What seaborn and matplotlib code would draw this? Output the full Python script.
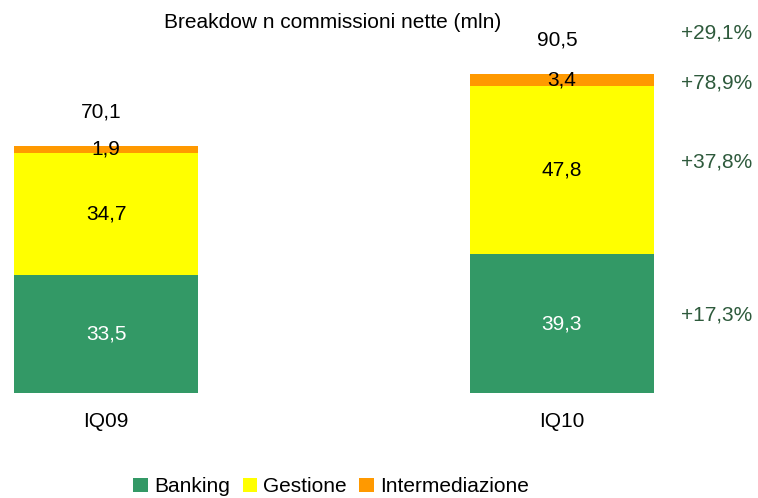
import pandas as pd
import numpy as np
import matplotlib.pyplot as plt
import seaborn as sns
from matplotlib.patches import Patch

# breakdown of net commissions (mln)
periods = ["IQ09", "IQ10"]
banking = [33.5, 39.3]
gestione = [34.7, 47.8]
intermediazione = [1.9, 3.4]
totals = [70.1, 90.5]
growth = ["+17,3%", "+37,8%", "+78,9%", "+29,1%"]  # banking, gestione, intermediazione, total

colors = {"Banking": "#339966", "Gestione": "#FFFF00", "Intermediazione": "#FF9900"}

df = pd.DataFrame({
    "period": periods,
    "Banking": banking,
    "Gestione": gestione,
    "Intermediazione": intermediazione,
})
df["lvl1"] = df["Banking"]
df["lvl2"] = df["lvl1"] + df["Gestione"]
df["lvl3"] = df["lvl2"] + df["Intermediazione"]

sns.set_style("white")
plt.rcParams["font.family"] = ["Liberation Sans", "DejaVu Sans"]
plt.rcParams["font.size"] = 15
plt.rcParams["text.color"] = "black"
plt.rcParams["xtick.color"] = "black"

fig = plt.figure(figsize=(7.58, 4.98), dpi=100)
ax = fig.add_axes([0, 105 / 498, 1, 393 / 498])

# stacked bars: draw cumulative heights from the top down
w = 0.405
for col, name in [("lvl3", "Intermediazione"), ("lvl2", "Gestione"), ("lvl1", "Banking")]:
    sns.barplot(data=df, x="period", y=col, color=colors[name], width=w, ax=ax,
                saturation=1, linewidth=0, edgecolor="none")

def fmt(v):
    return f"{v:.1f}".replace(".", ",")

for i in range(len(periods)):
    b, g, m = banking[i], gestione[i], intermediazione[i]
    ax.text(i, b / 2, fmt(b), ha="center", va="center", color="white")
    ax.text(i, b + g / 2, fmt(g), ha="center", va="center", color="black")
    ax.text(i, b + g + m / 2, fmt(m), ha="center", va="center", color="black")
    ax.text(i - 0.01, totals[i] + 9.6, fmt(totals[i]), ha="center", va="center", color="black")

# growth labels on the right of the IQ10 bar
gx = 1.261
centers = [banking[1] / 2, banking[1] + gestione[1] / 2, banking[1] + gestione[1] + intermediazione[1] / 2]
offsets = [2.5, 2.3, -0.9]
for lab, c, o in zip(growth[:3], centers, offsets):
    ax.text(gx, c + o, lab, ha="left", va="center", color="#2E5A3C")
ax.text(gx, totals[1] + 11.6, growth[3], ha="left", va="center", color="#2E5A3C")

ax.set_xlim(-0.2325, 1.430)
ax.set_ylim(0, 393 / 3.525)
ax.set_xlabel("")
ax.set_ylabel("")
ax.set_yticks([])
ax.tick_params(axis="x", length=0, pad=14)
sns.despine(ax=ax, left=True, bottom=True)

fig.text(333 / 758, 1 - 23 / 498, "Breakdow n commissioni nette (mln)", ha="center", va="center")

handles = [Patch(facecolor=colors[k], edgecolor="none", label=k) for k in ["Banking", "Gestione", "Intermediazione"]]
fig.legend(handles=handles, loc="lower center", bbox_to_anchor=(0.437, -0.026), ncol=3, frameon=False,
           handlelength=0.7, handleheight=0.7, handletextpad=0.3, columnspacing=0.6, borderpad=0.2)

fig.savefig("out.png", dpi=100)
